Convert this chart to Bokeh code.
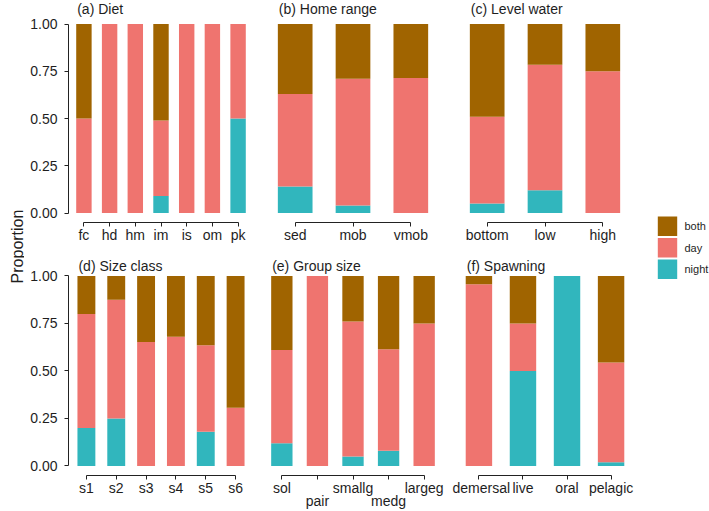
from bokeh.core.properties import value
from bokeh.embed import file_html
from bokeh.layouts import column, row
from bokeh.models import ColumnDataSource, FixedTicker, LinearAxis, PrintfTickFormatter, Range1d
from bokeh.plotting import figure
from bokeh.resources import INLINE
from math import pi

# Activity period shares per trait level (stacked bottom -> top: night, day, both)
periods = ["night", "day", "both"]
period_colors = ["#31B6BD", "#EF746F", "#A06400"]
legend_order = ["both", "day", "night"]

diet_cats = ["fc", "hd", "hm", "im", "is", "om", "pk"]
diet_night = [0.0, 0.0, 0.0, 0.09, 0.0, 0.0, 0.5]
diet_day = [0.5, 1.0, 1.0, 0.40, 1.0, 1.0, 0.5]
diet_both = [0.5, 0.0, 0.0, 0.51, 0.0, 0.0, 0.0]

home_cats = ["sed", "mob", "vmob"]
home_night = [0.14, 0.04, 0.0]
home_day = [0.49, 0.67, 0.714]
home_both = [0.37, 0.29, 0.286]

level_cats = ["bottom", "low", "high"]
level_night = [0.05, 0.12, 0.0]
level_day = [0.46, 0.665, 0.75]
level_both = [0.49, 0.215, 0.25]

size_cats = ["s1", "s2", "s3", "s4", "s5", "s6"]
size_night = [0.2, 0.25, 0.0, 0.0, 0.18, 0.0]
size_day = [0.6, 0.625, 0.653, 0.68, 0.455, 0.307]
size_both = [0.2, 0.125, 0.347, 0.32, 0.365, 0.693]

group_cats = ["sol", "pair", "smallg", "medg", "largeg"]
group_night = [0.12, 0.0, 0.05, 0.08, 0.0]
group_day = [0.49, 1.0, 0.71, 0.535, 0.75]
group_both = [0.39, 0.0, 0.24, 0.385, 0.25]

spawn_cats = ["demersal", "live", "oral", "pelagic"]
spawn_night = [0.0, 0.5, 1.0, 0.02]
spawn_day = [0.956, 0.25, 0.0, 0.525]
spawn_both = [0.044, 0.25, 0.0, 0.455]

y_ticks = [0.0, 0.25, 0.5, 0.75, 1.0]

FONT = "Liberation Sans"
TEXT_COLOR = "#1e1e1e"
LINE_COLOR = "#222222"

# per-row frame geometry
TOP_END = [1.1246, 1.1342]
FRAME_H = [222, 225]
BORDER_B = [28, 36]
TITLE_Y = [1.0796, 1.05]


def style_axis(ax):
    ax.axis_line_color = LINE_COLOR
    ax.axis_line_width = 1
    ax.major_tick_line_color = LINE_COLOR
    ax.major_tick_out = 4
    ax.major_tick_in = 0
    ax.minor_tick_line_color = None
    ax.major_label_text_font = FONT
    ax.major_label_text_font_size = "14px"
    ax.major_label_text_color = TEXT_COLOR


def panel(title, cats, night, day, both, r, first_col, last_col, dodge=False):
    n = len(cats)
    pos = list(range(1, n + 1))
    src = ColumnDataSource(dict(x=pos, night=night, day=day, both=both))
    p = figure(
        frame_width=185, frame_height=FRAME_H[r],
        x_range=Range1d(0.4, n + 0.6), y_range=Range1d(-0.05, TOP_END[r]),
        output_backend="svg", toolbar_location=None,
        y_axis_location="left" if first_col else None,
        min_border_left=44 if first_col else 0,
        min_border_right=0 if last_col else 7,
        min_border_top=0, min_border_bottom=BORDER_B[r],
    )
    p.outline_line_color = None
    p.grid.visible = False
    p.vbar_stack(periods, x="x", width=0.6, fill_color=period_colors,
                 line_color=None, source=src)

    xa = p.xaxis[0]
    style_axis(xa)
    xa.ticker = FixedTicker(ticks=pos)
    xa.bounds = (1, n)
    xa.major_label_standoff = 0
    if dodge:
        # every second label goes on a lower line
        xa.major_label_overrides = {i: (c if i % 2 == 1 else "") for i, c in zip(pos, cats)}
        xa2 = LinearAxis(ticker=FixedTicker(ticks=pos[1::2]))
        style_axis(xa2)
        xa2.axis_line_color = None
        xa2.major_tick_line_color = None
        xa2.major_tick_out = 0
        xa2.major_label_standoff = -6
        xa2.major_label_overrides = {i: c for i, c in zip(pos[1::2], cats[1::2])}
        p.add_layout(xa2, "below")
    else:
        xa.major_label_overrides = {i: c for i, c in zip(pos, cats)}

    if first_col:
        ya = p.yaxis[0]
        style_axis(ya)
        ya.ticker = FixedTicker(ticks=y_ticks)
        ya.formatter = PrintfTickFormatter(format="%.2f")
        ya.bounds = (0, 1)
        ya.major_label_standoff = 7

    p.text(x=[0.7], y=[TITLE_Y[r]], text=[title], x_offset=1,
           text_font=value(FONT), text_font_size="14px", text_color=TEXT_COLOR,
           text_align="left", text_baseline="middle")
    return p


pa = panel("(a) Diet", diet_cats, diet_night, diet_day, diet_both, 0, True, False)
pb = panel("(b) Home range", home_cats, home_night, home_day, home_both, 0, False, False)
pc = panel("(c) Level water", level_cats, level_night, level_day, level_both, 0, False, True)
pd = panel("(d) Size class", size_cats, size_night, size_day, size_both, 1, True, False)
pe = panel("(e) Group size", group_cats, group_night, group_day, group_both, 1, False, False, dodge=True)
pf = panel("(f) Spawning", spawn_cats, spawn_night, spawn_day, spawn_both, 1, False, True)

# shared y-axis title
ylab = figure(width=24, height=511, x_range=Range1d(0, 24), y_range=Range1d(511, 0),
              output_backend="svg", toolbar_location=None,
              x_axis_location=None, y_axis_location=None, min_border=0)
ylab.outline_line_color = None
ylab.grid.visible = False
ylab.text(x=[16.5], y=[246], text=["Proportion"], angle=pi / 2,
          text_font=value(FONT), text_font_size="16px", text_color=TEXT_COLOR,
          text_align="center", text_baseline="alphabetic")

# legend panel
leg = figure(width=72, height=511, x_range=Range1d(0, 72), y_range=Range1d(511, 0),
             output_backend="svg", toolbar_location=None,
             x_axis_location=None, y_axis_location=None, min_border=0)
leg.outline_line_color = None
leg.grid.visible = False
color_of = dict(zip(periods, period_colors))
key_top = [216 + 21.5 * i for i in range(len(legend_order))]
leg_src = ColumnDataSource(dict(
    top=key_top,
    bottom=[t + 19.5 for t in key_top],
    mid=[t + 9.75 for t in key_top],
    color=[color_of[k] for k in legend_order],
    label=legend_order,
))
leg.quad(left=20.3, right=39.7, top="top", bottom="bottom", fill_color="color",
         line_color=None, source=leg_src)
leg.text(x=47, y="mid", text="label", source=leg_src, text_font=value(FONT),
         text_font_size="11px", text_color=TEXT_COLOR, text_baseline="middle")

grid = column(row(pa, pb, pc, spacing=0), row(pd, pe, pf, spacing=0), spacing=0)
layout = row(ylab, grid, leg, spacing=0)

open("out.html", "w").write(file_html(layout, INLINE))
